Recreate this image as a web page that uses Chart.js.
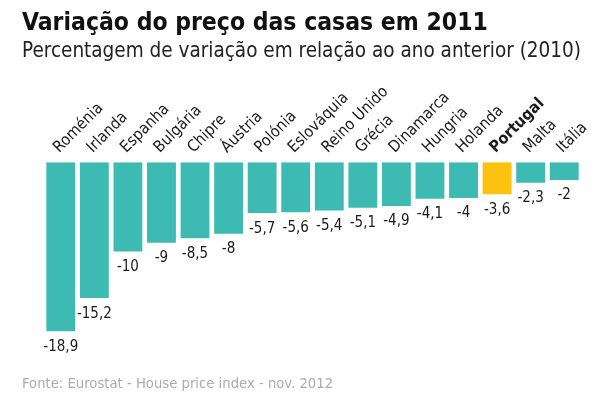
<!DOCTYPE html>
<html>
<head>
<meta charset="utf-8">
<script src="https://cdn.jsdelivr.net/npm/chart.js@4.4.0/dist/chart.umd.min.js"></script>
<style>
  body { margin: 0; background: #fff; }
  #wrap { width: 610px; height: 399px; }
</style>
</head>
<body>
<div id="wrap"><canvas id="myChart"></canvas></div>
<script>
// data
var countries = ['Roménia', 'Irlanda', 'Espanha', 'Bulgária', 'Chipre', 'Áustria', 'Polónia', 'Eslováquia',
  'Reino Unido', 'Grécia', 'Dinamarca', 'Hungria', 'Holanda', 'Portugal', 'Malta', 'Itália'];
var changes = [-18.9, -15.2, -10, -9, -8.5, -8, -5.7, -5.6, -5.4, -5.1, -4.9, -4.1, -4, -3.6, -2.3, -2];
var highlight = 'Portugal';
var titleText = 'Variação do preço das casas em 2011';
var subtitleText = 'Percentagem de variação em relação ao ano anterior (2010)';
var sourceText = 'Fonte: Eurostat - House price index - nov. 2012';

var teal = '#3dbab1';
var yellow = '#fcc210';
var narrow = "'Liberation Sans Narrow', 'DejaVu Sans Condensed', sans-serif";

var barColors = countries.map(function(c){ return c === highlight ? yellow : teal; });

// value under each bar, with a decimal comma
var valueLabels = {
    id: 'valueLabels',
    afterDatasetsDraw: function(chart) {
        var ctx = chart.ctx;
        var meta = chart.getDatasetMeta(0);
        ctx.save();
        ctx.fillStyle = '#1a1a1a';
        ctx.font = '15px ' + narrow;
        ctx.textAlign = 'center';
        ctx.textBaseline = 'top';
        meta.data.forEach(function(bar, i) {
            var txt = String(changes[i]).replace('.', ',');
            ctx.fillText(txt, bar.x, bar.y + 8);
        });
        ctx.restore();
    }
};

var sourceNote = {
    id: 'sourceNote',
    afterDraw: function(chart) {
        var ctx = chart.ctx;
        ctx.save();
        ctx.fillStyle = '#ababab';
        ctx.font = '14.7px ' + narrow;
        ctx.textAlign = 'left';
        ctx.textBaseline = 'middle';
        ctx.fillText(sourceText, 22, 384);
        ctx.restore();
    }
};

new Chart(document.getElementById('myChart'), {
    type: 'bar',
    data: {
        labels: countries,
        datasets: [{
            data: changes,
            backgroundColor: barColors,
            barPercentage: 0.86,
            categoryPercentage: 1
        }]
    },
    options: {
        responsive: true,
        maintainAspectRatio: false,
        animation: false,
        layout: { padding: { left: 22, right: 29, top: 0, bottom: 49 } },
        plugins: {
            legend: { display: false },
            tooltip: { enabled: false },
            title: {
                display: true,
                text: titleText,
                align: 'start',
                color: '#111',
                font: { family: narrow, size: 24.5, weight: 'bold', lineHeight: 1.25 },
                padding: { top: 8, bottom: 0 }
            },
            subtitle: {
                display: true,
                text: subtitleText,
                align: 'start',
                color: '#222',
                font: { family: narrow, size: 22, lineHeight: 1.0 },
                padding: { top: 2, bottom: 0 }
            }
        },
        scales: {
            x: {
                position: 'top',
                grid: { display: false, drawTicks: false },
                border: { display: false },
                ticks: {
                    minRotation: 45,
                    maxRotation: 45,
                    autoSkip: false,
                    padding: 5,
                    labelOffset: 9,
                    color: '#1a1a1a',
                    font: function(c) {
                        var bold = countries[c.index] === highlight;
                        return { family: narrow, size: 16, weight: bold ? 'bold' : 'normal' };
                    }
                },
                afterFit: function(scale) { scale.height = 99.5; }
            },
            y: {
                min: -21,
                max: 0,
                grid: { display: false },
                border: { display: false },
                ticks: { display: false },
                afterFit: function(scale) { scale.width = 22; }
            }
        }
    },
    plugins: [valueLabels, sourceNote]
});
</script>
</body>
</html>
